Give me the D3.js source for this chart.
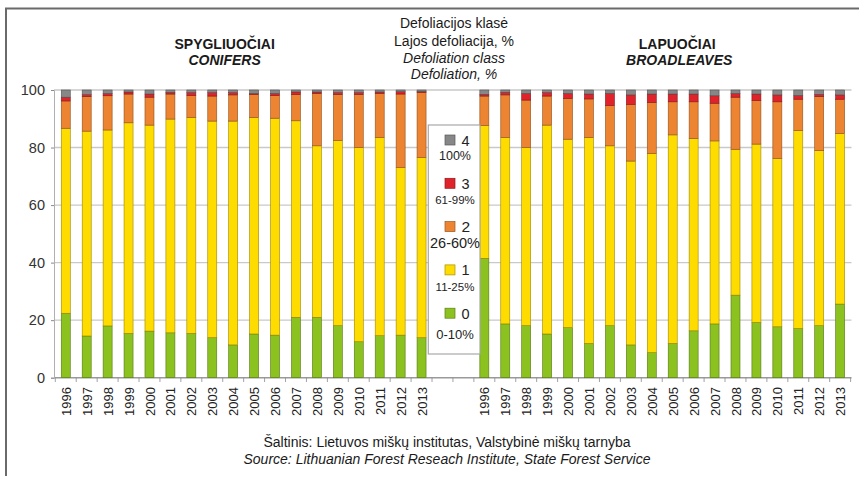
<!DOCTYPE html>
<html><head><meta charset="utf-8">
<script src="https://cdn.jsdelivr.net/npm/d3@7"></script>
<style>html,body{margin:0;padding:0;background:#fff}svg{display:block;font-family:Arial,"Liberation Sans",sans-serif}</style>
</head><body>
<script>
// ---------- DATA ----------
const years = ["1996","1997","1998","1999","2000","2001","2002","2003","2004","2005","2006","2007","2008","2009","2010","2011","2012","2013"];
const classKeys = ["c0","c1","c2","c3","c4"];
// Conifers (%) by class 0..4
const conifer0 = [22.4,14.5,18.0,15.4,16.2,15.6,15.4,13.9,11.4,15.2,14.8,21.0,21.0,18.1,12.5,14.6,14.8,13.9];
const conifer1 = [64.3,71.2,68.1,73.2,71.6,74.3,75.1,75.3,77.8,75.3,75.4,68.3,59.6,64.3,67.5,68.9,58.2,62.6];
const conifer2 = [9.5,12.0,11.9,10.0,9.7,8.7,7.6,8.7,9.1,8.0,7.9,9.1,18.2,16.1,18.5,15.3,25.6,22.7];
const conifer3 = [1.3,0.7,0.8,0.7,1.1,0.6,1.0,1.2,0.8,0.3,0.7,0.9,0.5,0.6,0.6,0.5,0.8,0.3];
const conifer4 = [2.5,1.6,1.2,0.7,1.4,0.8,0.9,0.9,0.9,1.2,1.2,0.7,0.7,0.9,0.9,0.7,0.6,0.5];
// Broadleaves (%) by class 0..4
const broad0 = [41.5,18.7,18.1,15.2,17.4,11.9,18.1,11.4,8.7,11.9,16.3,18.7,28.7,19.2,17.7,17.1,18.1,25.6];
const broad1 = [46.1,64.8,61.9,72.6,65.5,71.6,62.5,63.9,69.3,72.5,66.9,63.6,50.7,62.0,58.5,68.8,60.8,59.3];
const broad2 = [10.3,14.8,16.5,10.1,14.2,13.4,14.0,19.7,17.7,11.5,12.7,13.1,18.1,15.1,19.7,10.9,18.8,11.9];
const broad3 = [0.6,0.9,2.3,1.2,1.7,1.7,4.2,3.3,2.9,2.7,2.7,2.6,1.3,2.3,2.4,1.3,0.8,1.5];
const broad4 = [1.5,0.8,1.2,0.9,1.2,1.4,1.2,1.7,1.4,1.4,1.4,2.0,1.2,1.4,1.7,1.9,1.5,1.7];
const yTicks = [0,20,40,60,80,100];
const groupTitlesLt = ["SPYGLIUOČIAI","LAPUOČIAI"];
const groupTitlesEn = ["CONIFERS","BROADLEAVES"];
const legendTitle = ["Defoliacijos klasė","Lajos defoliacija, %","Defoliation class","Defoliation, %"];
const legendClasses = ["4","3","2","1","0"];
const legendRanges = ["100%","61-99%","26-60%","11-25%","0-10%"];
const sourceLines = ["Šaltinis: Lietuvos miškų institutas, Valstybinė miškų tarnyba","Source: Lithuanian Forest Reseach Institute, State Forest Service"];

// ---------- BUILD ----------
const colors = {c0:"#8cc21f", c1:"#ffdc00", c2:"#ec8431", c3:"#e0222a", c4:"#878787"};
function rows(prefix, a0,a1,a2,a3,a4){
  return years.map((y,i)=>({key:prefix+y, year:y, c0:a0[i], c1:a1[i], c2:a2[i], c3:a3[i], c4:a4[i]}));
}
const data = rows("C",conifer0,conifer1,conifer2,conifer3,conifer4)
  .concat(rows("B",broad0,broad1,broad2,broad3,broad4));
const slots = years.map(y=>"C"+y).concat(["gap1","gap2"]).concat(years.map(y=>"B"+y));

const W=859,H=477;
const svg = d3.select("body").append("svg").attr("width",W).attr("height",H);

const x = d3.scaleBand().domain(slots).range([55.3,850.6]).paddingInner(0.57).paddingOuter(0.285);
const y = d3.scaleLinear().domain([0,100]).range([377.7,90]);

// frame
svg.append("path").attr("d",`M6,476 V8.5 H859`).attr("fill","none").attr("stroke","#6a6a6a").attr("stroke-width",2);

// grid
const grid = svg.append("g");
grid.selectAll("line").data(yTicks).join("line")
  .attr("x1",54).attr("x2",851.5).attr("y1",d=>y(d)).attr("y2",d=>y(d))
  .attr("stroke",d=>d===0?"#9a9a9a":"#c9c9c9").attr("stroke-width",1.4);
// y axis
const yAx = svg.append("g").attr("transform","translate(54,0)")
  .call(d3.axisLeft(y).tickValues(yTicks).tickSize(3).tickPadding(6));
yAx.select(".domain").attr("stroke","#b0b0b0");
yAx.selectAll(".tick line").attr("stroke","#8a8a8a");
yAx.selectAll("text").attr("font-size",14.5).attr("fill","#333").attr("font-family","Arial, Liberation Sans, sans-serif");

// x tick marks at slot boundaries
const step = x.step();
const bounds = d3.range(slots.length+1).map(i=>x.range()[0]+i*step);
svg.append("g").selectAll("line").data(bounds).join("line")
  .attr("x1",d=>d).attr("x2",d=>d).attr("y1",377.7).attr("y2",382)
  .attr("stroke","#8a8a8a").attr("stroke-width",0.8);

// bars
const stack = d3.stack().keys(classKeys)(data);
svg.append("g").selectAll("g").data(stack).join("g")
  .attr("fill",d=>colors[d.key])
  .attr("stroke",d=>d3.color(colors[d.key]).darker(1.4))
  .selectAll("rect").data(d=>d).join("rect")
  .attr("x",d=>x(d.data.key)).attr("width",x.bandwidth())
  .attr("y",d=>y(d[1])).attr("height",d=>Math.max(0,y(d[0])-y(d[1])))
  .attr("stroke-width",0.6);

// year labels
svg.append("g").selectAll("text").data(data).join("text")
  .attr("transform",d=>`translate(${x(d.key)+x.bandwidth()/2+0.5},387) rotate(-90)`)
  .attr("text-anchor","end").attr("dy","0.35em")
  .attr("font-size",13).attr("fill","#222").text(d=>d.year);

// group titles
const gx = [d3.mean(years,(yy)=>x("C"+yy)), d3.mean(years,(yy)=>x("B"+yy))].map(v=>v+x.bandwidth()/2);
const gOff = [-19, 15];
svg.append("g").selectAll("text").data(groupTitlesLt).join("text")
  .attr("x",(d,i)=>gx[i]+gOff[i]).attr("y",49).attr("text-anchor","middle")
  .attr("font-weight","bold").attr("font-size",14).attr("fill","#1a1a1a").text(d=>d);
svg.append("g").selectAll("text").data(groupTitlesEn).join("text")
  .attr("x",(d,i)=>gx[i]+gOff[i]+(i?2:0)).attr("y",64.5).attr("text-anchor","middle")
  .attr("font-weight","bold").attr("font-style","italic").attr("font-size",14).attr("fill","#1a1a1a").text(d=>d);

// legend title
const ltY=[28,46,63,79];
svg.append("g").selectAll("text").data(legendTitle).join("text")
  .attr("x",454).attr("y",(d,i)=>ltY[i]).attr("text-anchor","middle")
  .attr("font-style",(d,i)=>i>=2?"italic":"normal")
  .attr("font-size",14).attr("fill","#1a1a1a").text(d=>d);

// legend box
const lg = svg.append("g");
lg.append("rect").attr("x",428.3).attr("y",125).attr("width",51.7).attr("height",229)
  .attr("fill","#fff").attr("stroke","#a8a8a8").attr("stroke-width",1.2);
const legendKeyOrder = ["c4","c3","c2","c1","c0"];
const sqY = i=>135+i*43.3;
const rangeY = [160,203.5,248,291,338.5];
const rangeFs = [12.5,11.5,14.5,11.5,13];
const items = lg.selectAll("g").data(legendClasses).join("g");
items.append("rect").attr("x",445).attr("y",(d,i)=>sqY(i)).attr("width",10).attr("height",10)
  .attr("fill",(d,i)=>colors[legendKeyOrder[i]])
  .attr("stroke",(d,i)=>d3.color(colors[legendKeyOrder[i]]).darker(1.2)).attr("stroke-width",0.7);
items.append("text").attr("x",461.5).attr("y",(d,i)=>sqY(i)+10.5)
  .attr("font-size",(d,i)=>i===2?15.5:14.5).attr("fill","#222").text(d=>d);
items.append("text").data(legendRanges).attr("x",455).attr("y",(d,i)=>rangeY[i]).attr("text-anchor","middle")
  .attr("font-size",(d,i)=>rangeFs[i]).attr("fill","#222").text(d=>d);

// source
svg.append("g").selectAll("text").data(sourceLines).join("text")
  .attr("x",447).attr("y",(d,i)=>447+i*16.5).attr("text-anchor","middle")
  .attr("font-style",(d,i)=>i===1?"italic":"normal")
  .attr("font-size",14).attr("fill","#1a1a1a").text(d=>d);
</script>
</body></html>
